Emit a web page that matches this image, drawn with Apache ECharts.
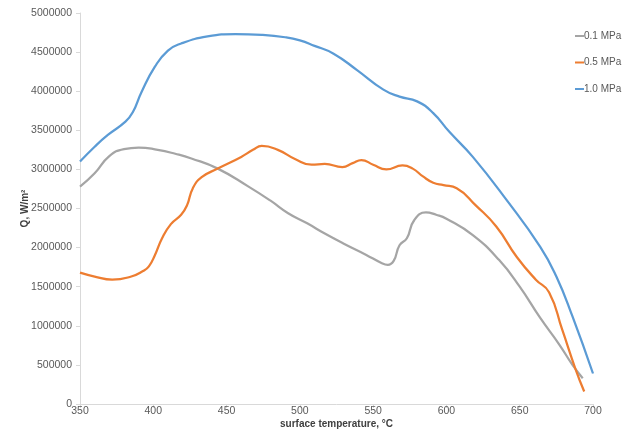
<!DOCTYPE html>
<html>
<head>
<meta charset="utf-8">
<script src="https://cdn.jsdelivr.net/npm/echarts@6/dist/echarts.min.js"></script>
<style>
  html, body { margin: 0; padding: 0; background: #ffffff; }
  #chart { width: 638px; height: 433px; }
</style>
</head>
<body>
<div id="chart"></div>
<script>
// Heat flux Q (W/m²) versus surface temperature (°C) at three pressures
const seriesNames = ['0.1 MPa', '0.5 MPa', '1.0 MPa'];

const temp01 = [350, 360, 370, 380, 390, 403, 415, 426, 444, 465, 480, 492, 505, 517, 530, 545, 556, 560, 564, 568, 573, 578, 586, 593, 600, 618, 636, 650, 664, 677, 686, 693];
const q01 = [2780000, 2950000, 3170000, 3260000, 3280000, 3250000, 3200000, 3140000, 3010000, 2780000, 2600000, 2440000, 2310000, 2180000, 2050000, 1910000, 1800000, 1780000, 1830000, 2030000, 2120000, 2350000, 2450000, 2420000, 2370000, 2160000, 1840000, 1500000, 1100000, 760000, 500000, 330000];

const temp05 = [350, 360, 372, 385, 393, 397, 401, 406, 412, 419, 423, 427, 433, 444, 460, 468, 474, 485, 497, 508, 517, 529, 536, 542, 550, 559, 570, 577, 584, 591, 598, 607, 620, 634, 648, 661, 670, 679, 688, 694];
const q05 = [1680000, 1630000, 1590000, 1630000, 1700000, 1760000, 1900000, 2120000, 2300000, 2420000, 2540000, 2760000, 2900000, 3010000, 3160000, 3250000, 3300000, 3250000, 3130000, 3060000, 3070000, 3030000, 3080000, 3120000, 3060000, 3000000, 3050000, 3010000, 2910000, 2830000, 2800000, 2760000, 2540000, 2270000, 1880000, 1590000, 1430000, 950000, 450000, 160000];

const temp10 = [350, 360, 369, 381, 386, 392, 401, 410, 419, 437, 456, 474, 490, 500, 510, 523, 539, 557, 568, 580, 591, 602, 618, 641, 664, 675, 686, 700];
const q10 = [3100000, 3290000, 3440000, 3610000, 3730000, 3990000, 4310000, 4520000, 4610000, 4700000, 4730000, 4720000, 4690000, 4650000, 4580000, 4480000, 4270000, 4020000, 3930000, 3870000, 3720000, 3480000, 3160000, 2610000, 2010000, 1630000, 1120000, 390000];

const xTicks = [350, 400, 450, 500, 550, 600, 650, 700];
const yTicks = [0, 500000, 1000000, 1500000, 2000000, 2500000, 3000000, 3500000, 4000000, 4500000, 5000000];

const colors = ['#a5a5a5', '#ed7d31', '#5b9bd5'];
const textColor = '#595959';
const axisColor = '#d9d9d9';
const font = 'Liberation Sans';

function pairs(xs, ys) {
  return xs.map((x, i) => [x, ys[i]]);
}

const chart = echarts.init(document.getElementById('chart'), null, { renderer: 'canvas' });

chart.setOption({
  animation: false,
  backgroundColor: '#ffffff',
  color: colors,
  grid: { left: 80, right: 45, top: 13, bottom: 29, containLabel: false, outerBoundsMode: 'none' },
  legend: {
    orient: 'vertical',
    left: 570,
    top: 26,
    itemWidth: 9,
    itemHeight: 2,
    itemGap: 16.5,
    icon: 'rect',
    data: seriesNames,
    textStyle: { color: textColor, fontFamily: font, fontSize: 10, padding: [0, 0, 0, -5] }
  },
  xAxis: {
    type: 'value',
    min: xTicks[0],
    max: xTicks[xTicks.length - 1],
    interval: xTicks[1] - xTicks[0],
    name: 'surface temperature, °C',
    nameLocation: 'middle',
    nameGap: 15,
    nameMoveOverlap: false,
    nameTextStyle: { color: '#404040', fontFamily: font, fontSize: 10, fontWeight: 'bold' },
    axisLine: { show: true, lineStyle: { color: axisColor, width: 1 } },
    axisTick: { show: true, length: 4, lineStyle: { color: axisColor } },
    axisLabel: { color: textColor, fontFamily: font, fontSize: 10.5, margin: 2 },
    splitLine: { show: false }
  },
  yAxis: {
    type: 'value',
    min: yTicks[0],
    max: yTicks[yTicks.length - 1],
    interval: yTicks[1] - yTicks[0],
    name: 'Q, W/m²',
    nameLocation: 'middle',
    nameGap: 50,
    nameRotate: 90,
    nameMoveOverlap: false,
    nameTextStyle: { color: '#404040', fontFamily: font, fontSize: 10, fontWeight: 'bold' },
    axisLine: { show: true, lineStyle: { color: axisColor, width: 1 } },
    axisTick: { show: true, length: 4, lineStyle: { color: axisColor } },
    axisLabel: { color: textColor, fontFamily: font, fontSize: 10.5, margin: 8, formatter: v => String(v) },
    splitLine: { show: false }
  },
  series: [
    { name: seriesNames[0], type: 'line', data: pairs(temp01, q01) },
    { name: seriesNames[1], type: 'line', data: pairs(temp05, q05) },
    { name: seriesNames[2], type: 'line', data: pairs(temp10, q10) }
  ].map(s => Object.assign(s, {
    smooth: 0.5,
    showSymbol: false,
    symbol: 'none',
    lineStyle: { width: 2.25 }
  }))
});
</script>
</body>
</html>
